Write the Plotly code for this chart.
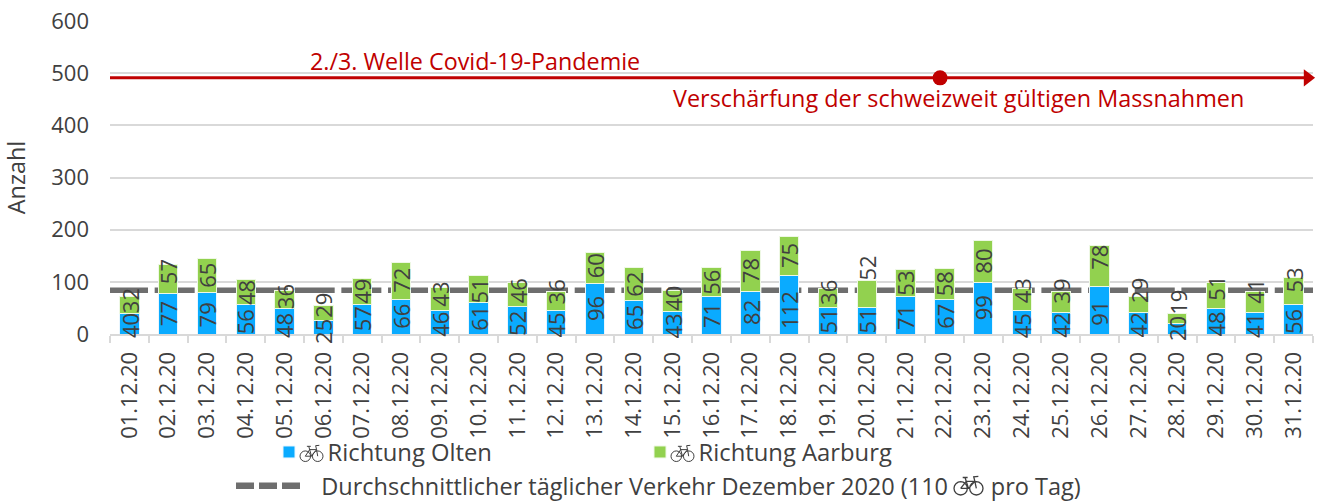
import math
import plotly.graph_objects as go

dates = ["%02d.12.20" % d for d in range(1, 32)]
olten = [40,77,79,56,48,25,57,66,46,61,52,45,96,65,43,71,82,112,51,51,71,67,99,45,42,91,42,20,48,41,56]
aarburg = [32,57,65,48,36,29,49,72,43,51,46,36,60,62,40,56,78,75,36,52,53,58,80,43,39,78,29,19,51,41,53]
average_level = 84
campaign_level = 491
y_ticks = [0,100,200,300,400,500,600]

# label nudges in pixels (positive = up), as placed by hand in the original
olten_nudge = [-2,0,-2,-2,-4,-4,0,0,-2,0,-3,-3,0,0,-3,0,0,-5,0,0,-2,0,0,-3,-2,-3,-2,0,-2,-2,-2]
aarburg_nudge = [4,7,0,0,3,8,0,0,5,-2,4,9,2,0,3,0,0,0,6,26,0,0,0,9,11,9,14,16,8,11,11]

W, H = 1318, 501
L, R, T, B = 110, 1313, 21, 334
GREY = "#404040"
RED = "#c00000"
FONT = "Open Sans"
NB = "\u00a0"
def fx(px): return (px - L) / (R - L)
def fy(py): return (B - py) / (B - T)
def cx(px): return px / W
def cy(py): return 1 - py / H

fig = go.Figure()
# full-width overlays run on the hidden 0..1 base axis, so they sit beneath the bars
fig.add_scatter(x=[fx(108), 1], y=[average_level]*2, mode="lines", showlegend=False, cliponaxis=False,
                line=dict(color="#6e6e6e", width=5.5, dash="40px,6.67px"))
fig.add_scatter(x=[0, 0.69, 0.9955], y=[campaign_level]*3, mode="lines+markers", showlegend=False,
                line=dict(color=RED, width=3), cliponaxis=False,
                marker=dict(symbol=["circle-open", "circle", "triangle-right"], size=[0, 15, 15], color=RED,
                            opacity=1, line=dict(width=0)))
fig.add_bar(x=dates, y=olten, xaxis="x2", marker=dict(color="#0aabff", line=dict(color="#e8f6ff", width=1)), name=NB*3 + "Richtung Olten", legend="legend")
fig.add_bar(x=dates, y=aarburg, xaxis="x2", marker=dict(color="#92d14f", line=dict(color="#eef8e4", width=1)), name=NB*3 + "Richtung Aarburg", legend="legend2")
fig.add_scatter(x=[None], y=[None], mode="lines", legend="legend3",
                name=NB*2 + "Durchschnittlicher täglicher Verkehr Dezember 2020 (110 " + NB*6 + "pro Tag)",
                line=dict(color="#6e6e6e", width=6.5, dash="18px,5px"))

ann = []
for i, d in enumerate(dates):
    ann.append(dict(x=d, y=olten[i]/2, yshift=olten_nudge[i], text=str(olten[i])))
    ann.append(dict(x=d, y=olten[i]+aarburg[i]/2, yshift=aarburg_nudge[i], text=str(aarburg[i])))
for a in ann:
    a.update(xref="x2", yref="y", textangle=-90, showarrow=False, font=dict(family=FONT, size=22, color=GREY))
ann.append(dict(xref="paper", yref="paper", x=fx(475), y=fy(61), xanchor="center", yanchor="middle",
                text="2./3. Welle Covid-19-Pandemie",
                showarrow=False, font=dict(family=FONT, size=23.3, color=RED)))
ann.append(dict(xref="paper", yref="paper", x=fx(958.5), y=fy(98), xanchor="center", yanchor="middle",
                text="Verschärfung der schweizweit gültigen Massnahmen",
                showarrow=False, font=dict(family=FONT, size=23.4, color=RED)))

def bike(x0, y0, w=24, h=16.5, color="#404040", lw=1):
    """Small bicycle pictogram drawn as one path, in paper coordinates."""
    r = 0.23 * w
    def P(u, v): return f"{fx(x0 + u*w):.5f},{fy(y0 + v*h):.5f}"
    def circle(cu):
        n = 16
        pts = [(cu + r/w*math.cos(2*math.pi*k/n), 1 - r/h + r/h*math.sin(2*math.pi*k/n)) for k in range(n)]
        return "M" + " L".join(P(u, v) for u, v in pts) + " Z"
    wy = 1 - r/h
    frame = ("M" + P(.23,wy) + " L" + P(.42,.28) + " L" + P(.72,.28) + " L" + P(.77,wy)
             + " M" + P(.23,wy) + " L" + P(.5,wy) + " L" + P(.72,.28)
             + " M" + P(.5,wy) + " L" + P(.38,.08) + " M" + P(.3,.08) + " L" + P(.47,.08)
             + " M" + P(.72,.28) + " L" + P(.68,.04) + " L" + P(.84,.02))
    return dict(type="path", xref="paper", yref="paper", path=circle(.23)+" "+circle(.77)+" "+frame,
                line=dict(color=color, width=lw), layer="above")

shapes = [bike(300, 445, w=23), bike(671, 445, w=23), bike(954, 476, w=29, h=19, lw=1.3)]

def leg(x, y, iw, size=23.8):
    return dict(x=cx(x), y=cy(y), xref="container", yref="container", orientation="h", xanchor="left", yanchor="top",
                itemwidth=iw, bgcolor="rgba(0,0,0,0)", font=dict(family=FONT, size=size, color=GREY))

fig.update_layout(
    width=W, height=H, autosize=False, barmode="stack", bargap=0.5,
    margin=dict(l=L, r=W-R, t=T, b=H-B, pad=0),
    paper_bgcolor="white", plot_bgcolor="white",
    font=dict(family=FONT, size=21, color=GREY),
    annotations=ann, shapes=shapes,
    xaxis=dict(range=[0, 1], visible=False, fixedrange=True),
    xaxis2=dict(overlaying="x", anchor="y", side="bottom", type="category", tickangle=-90, ticks="outside", ticklen=7, tickcolor="#d9d9d9", tickwidth=2,
               tickson="boundaries", showgrid=False, showline=True, linecolor="#d9d9d9", linewidth=2,
               ticklabelstandoff=7, automargin=False,
               tickfont=dict(family=FONT, size=22, color=GREY), range=[-0.5, 30.5]),
    yaxis=dict(range=[0, 600], tickvals=y_ticks, showgrid=True, gridcolor="#d9d9d9", gridwidth=2, zeroline=False,
               tickfont=dict(family=FONT, size=22, color=GREY), ticks="", ticklen=0, ticklabelstandoff=20, automargin=False,
               title=dict(text="Anzahl", font=dict(family=FONT, size=23.4, color=GREY), standoff=23)),
    legend=leg(269, 430, 30),
    legend2=leg(640, 430, 30),
    legend3=leg(231, 464, 68, size=23.5),
)
fig.write_html("out.html", post_script="document.body.style.margin='0';", config=dict(displayModeBar=False))
